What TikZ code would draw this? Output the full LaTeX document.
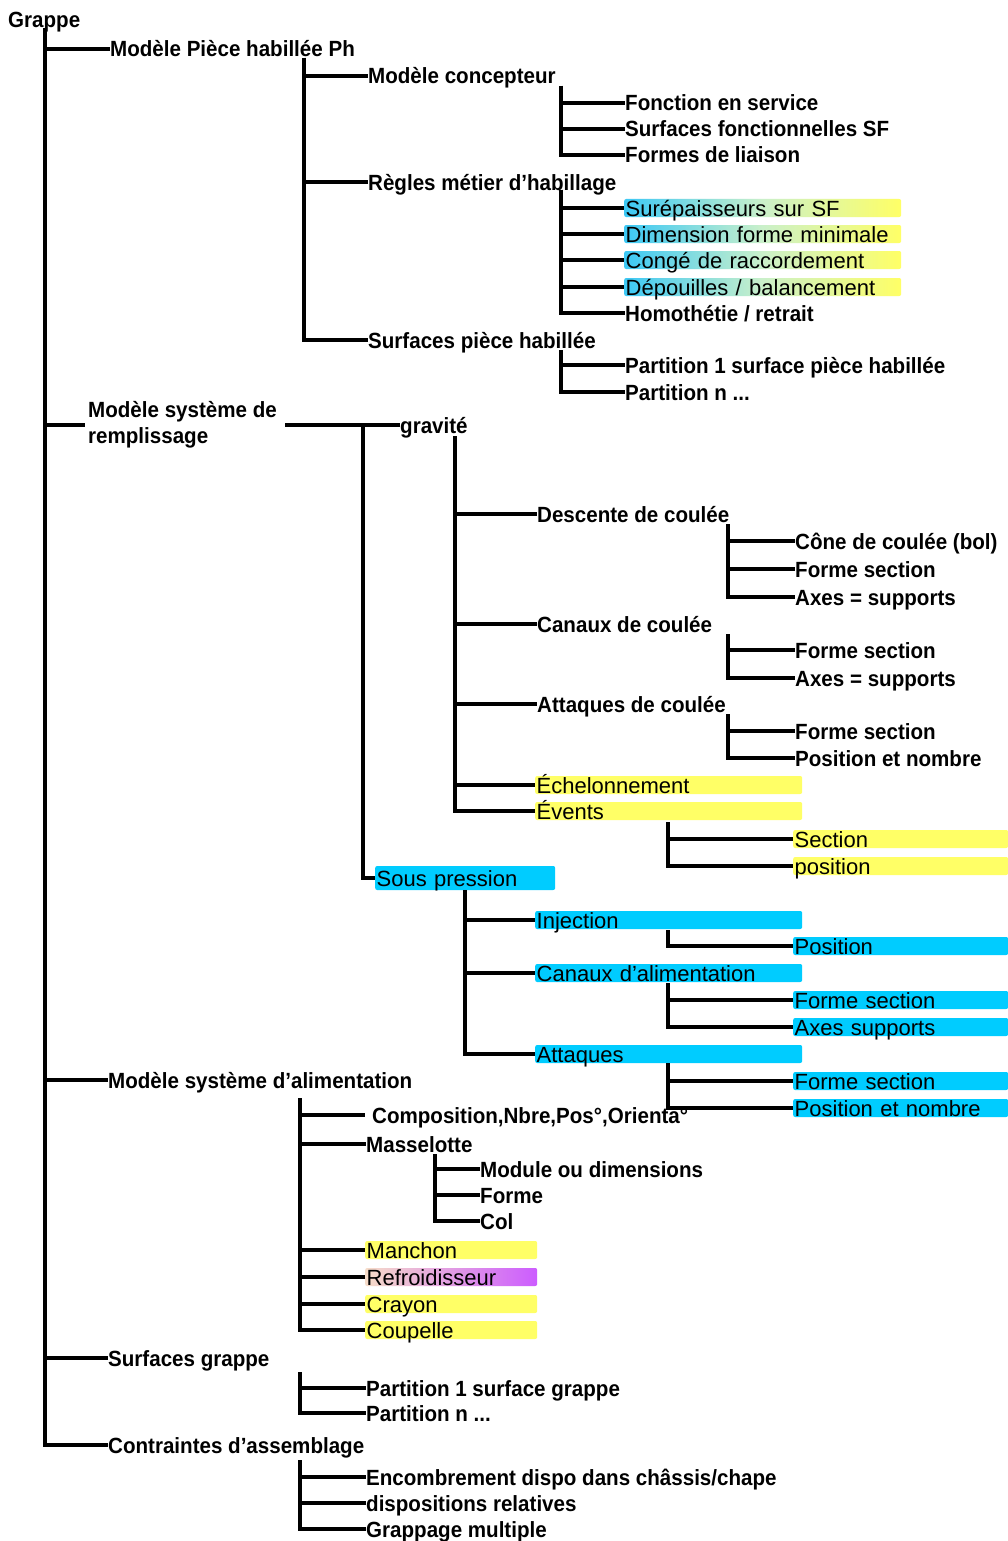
\documentclass[tikz,border=0pt]{standalone}
\usepackage{fontspec}
\setmainfont{Liberation Sans}
\newfontfamily\heavy[FakeStretch=0.935]{Liberation Sans}
\definecolor{hy}{HTML}{FFFF66}
\definecolor{hc}{HTML}{00CCFF}
\definecolor{gc}{HTML}{3CC8F5}
\definecolor{gp}{HTML}{F6DCC8}
\definecolor{pv}{HTML}{CC5CFF}
\begin{document}
\begin{tikzpicture}[x=1pt,y=-1pt,
  conn/.style={line width=3.8pt},
  lbl/.style={anchor=west,inner sep=0pt,text height=16pt,text depth=0pt,font=\heavy\bfseries\fontsize{22}{26}\selectfont},
  hl/.style={anchor=west,inner xsep=1.5pt,inner ysep=1pt,text height=16pt,text depth=0pt,font=\fontsize{22}{26}\selectfont,rounded corners=2pt,align=left,text width=#1},
  yb/.style={hl=#1,fill=hy},
  cb/.style={hl=#1,fill=hc},
  gb/.style={hl=#1,left color=gc,right color=hy,middle color=hy!55!gc!60!white},
  pb/.style={hl=#1,left color=gp,right color=pv,middle color=gp!50!pv},
]
\fill[white] (0,0) rectangle (1008,1541);
\useasboundingbox (0,0) rectangle (1008,1541);

% level 0 and 1
\node[lbl] (grappe) at (8,20) {Grappe};
\coordinate (t0) at (45,28);
\node[lbl] (mpp) at (110,49) {Modèle Pièce habillée Ph};
\node[anchor=west,inner sep=0pt,align=left,font=\heavy\bfseries\fontsize{22}{26}\selectfont] (msr) at (88,425) {Modèle système de\\remplissage};
\node[lbl] (msa) at (108,1080) {Modèle système d’alimentation};
\node[lbl] (sg) at (108,1358) {Surfaces grappe};
\node[lbl] (ca) at (108,1445) {Contraintes d’assemblage};
\foreach \c in {mpp,msa,sg,ca} \draw[conn] (t0) |- (\c.west);
\draw[conn] (t0) |- ([xshift=-3pt]msr.west);

% Modèle pièce habillée
\coordinate (t2) at (304,58);
\node[lbl] (mc) at (368,76) {Modèle concepteur};
\node[lbl] (rm) at (368,182) {Règles métier d’habillage};
\node[lbl] (sph) at (368,340) {Surfaces pièce habillée};
\foreach \c in {mc,rm,sph} \draw[conn] (t2) |- (\c.west);

\coordinate (t3) at (561,86);
\node[lbl] (fes) at (625,103) {Fonction en service};
\node[lbl] (sfsf) at (625,129) {Surfaces fonctionnelles SF};
\node[lbl] (fdl) at (625,155) {Formes de liaison};
\foreach \c in {fes,sfsf,fdl} \draw[conn] (t3) |- (\c.west);

\coordinate (t4) at (561,190);
\node[gb=274pt] (surep) at (624,208) {Surépaisseurs sur SF};
\node[gb=274pt] (dim) at (624,234) {Dimension forme minimale};
\node[gb=274pt] (conge) at (624,260) {Congé de raccordement};
\node[gb=274pt] (depou) at (624,287) {Dépouilles / balancement};
\node[lbl] (homo) at (625,313) {Homothétie / retrait};
\foreach \c in {surep,dim,conge,depou,homo} \draw[conn] (t4) |- (\c.west);

\coordinate (t5) at (561,350);
\node[lbl] (p1sph) at (625,365) {Partition 1 surface pièce habillée};
\node[lbl] (pnsph) at (625,392) {Partition n ...};
\foreach \c in {p1sph,pnsph} \draw[conn] (t5) |- (\c.west);

% Modèle système de remplissage
\node[lbl] (grav) at (400,425) {gravité};
\draw[conn] ([xshift=8pt]msr.east) -- (grav.west);
\node[cb=177pt,inner ysep=4pt] (sp) at (375,878) {Sous pression};
\coordinate (t1) at (363,425);
\draw[conn] (t1) |- (sp.west);

\coordinate (t6) at (455,436);
\node[lbl] (desc) at (537,514) {Descente de coulée};
\node[lbl] (canc) at (537,624) {Canaux de coulée};
\node[lbl] (attc) at (537,704) {Attaques de coulée};
\node[yb=264pt] (ech) at (535,785) {Échelonnement};
\node[yb=264pt] (evt) at (535,811) {Évents};
\foreach \c in {desc,canc,attc,ech,evt} \draw[conn] (t6) |- (\c.west);

\coordinate (t7) at (728,524);
\node[lbl] (cone) at (795,541) {Cône de coulée (bol)};
\node[lbl] (fs1) at (795,569) {Forme section};
\node[lbl] (ax1) at (795,597) {Axes = supports};
\foreach \c in {cone,fs1,ax1} \draw[conn] (t7) |- (\c.west);

\coordinate (t8) at (728,634);
\node[lbl] (fs2) at (795,650) {Forme section};
\node[lbl] (ax2) at (795,678) {Axes = supports};
\foreach \c in {fs2,ax2} \draw[conn] (t8) |- (\c.west);

\coordinate (t9) at (728,714);
\node[lbl] (fs3) at (795,731) {Forme section};
\node[lbl] (pn3) at (795,758) {Position et nombre};
\foreach \c in {fs3,pn3} \draw[conn] (t9) |- (\c.west);

\coordinate (t10) at (668,822);
\node[yb=212pt] (sect) at (793,839) {Section};
\node[yb=212pt] (posv) at (793,866) {position};
\foreach \c in {sect,posv} \draw[conn] (t10) |- (\c.west);

\coordinate (t11) at (465,890);
\node[cb=264pt] (inj) at (535,920) {Injection};
\node[cb=264pt] (cal) at (535,973) {Canaux d’alimentation};
\node[cb=264pt] (att) at (535,1054) {Attaques};
\foreach \c in {inj,cal,att} \draw[conn] (t11) |- (\c.west);

\coordinate (t12) at (668,930);
\node[cb=212pt] (posi) at (793,946) {Position};
\draw[conn] (t12) |- (posi.west);

\coordinate (t13) at (668,983);
\node[cb=212pt] (fs4) at (793,1000) {Forme section};
\node[cb=212pt] (ax4) at (793,1027) {Axes supports};
\foreach \c in {fs4,ax4} \draw[conn] (t13) |- (\c.west);

\coordinate (t14) at (668,1063);
\node[cb=212pt] (fs5) at (793,1081) {Forme section};
\node[cb=212pt] (pn5) at (793,1108) {Position et nombre};
\foreach \c in {fs5,pn5} \draw[conn] (t14) |- (\c.west);

% Modèle système d'alimentation
\coordinate (t15) at (300,1098);
\node[lbl] (comp) at (372,1115) {Composition,Nbre,Pos°,Orienta°};
\draw[conn] (t15) |- ([xshift=-7pt]comp.west);
\node[lbl] (mass) at (366,1144) {Masselotte};
\node[yb=169pt] (manch) at (365,1250) {Manchon};
\node[pb=169pt] (refr) at (365,1277) {Refroidisseur};
\node[yb=169pt] (cray) at (365,1304) {Crayon};
\node[yb=169pt] (coup) at (365,1330) {Coupelle};
\foreach \c in {mass,manch,refr,cray,coup} \draw[conn] (t15) |- (\c.west);

\coordinate (t16) at (435,1154);
\node[lbl] (modu) at (480,1169) {Module ou dimensions};
\node[lbl] (forme) at (480,1195) {Forme};
\node[lbl] (col) at (480,1221) {Col};
\foreach \c in {modu,forme,col} \draw[conn] (t16) |- (\c.west);

% Surfaces grappe
\coordinate (t17) at (300,1372);
\node[lbl] (p1sg) at (366,1388) {Partition 1 surface grappe};
\node[lbl] (pnsg) at (366,1413) {Partition n ...};
\foreach \c in {p1sg,pnsg} \draw[conn] (t17) |- (\c.west);

% Contraintes d'assemblage
\coordinate (t18) at (300,1460);
\node[lbl] (enc) at (366,1477) {Encombrement dispo dans châssis/chape};
\node[lbl] (disp) at (366,1503) {dispositions relatives};
\node[lbl] (grap) at (366,1529) {Grappage multiple};
\foreach \c in {enc,disp,grap} \draw[conn] (t18) |- (\c.west);
\end{tikzpicture}
\end{document}
